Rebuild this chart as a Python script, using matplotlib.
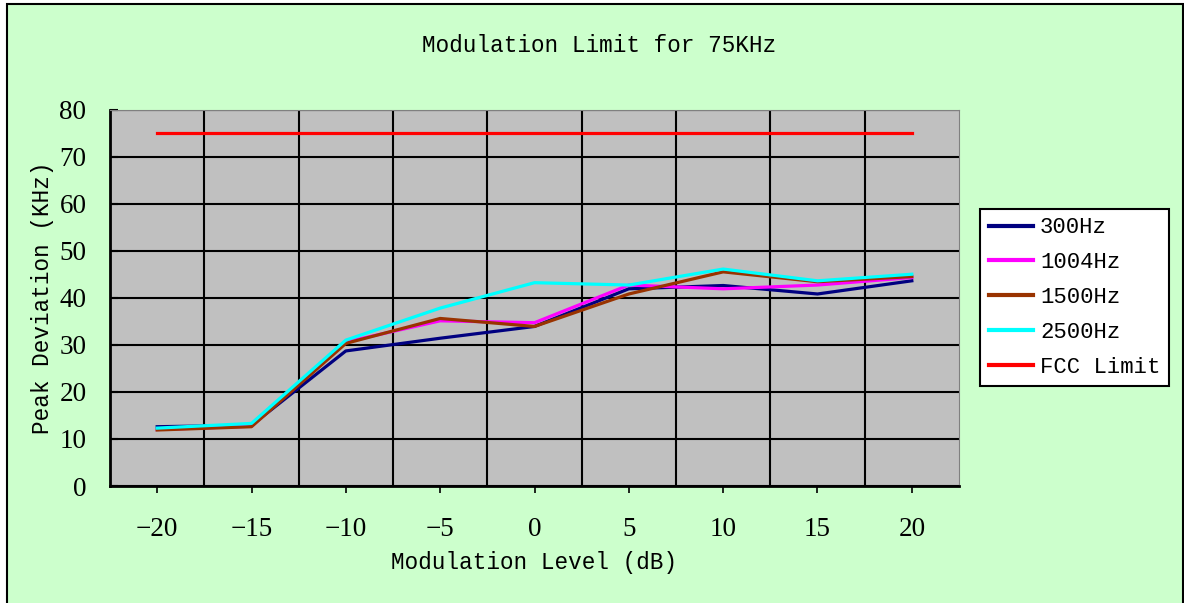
import numpy as np
import matplotlib
matplotlib.use("Agg")
import matplotlib.pyplot as plt
from matplotlib.patches import Rectangle

# data
levels = ["\u221220", "\u221215", "\u221210", "\u22125", "0", "5", "10", "15", "20"]
hz300 = [12.6, 12.9, 28.7, 31.4, 33.9, 41.9, 42.6, 40.8, 43.6]
hz1004 = [12.0, 12.7, 30.6, 35.1, 34.7, 42.7, 41.9, 42.7, 44.3]
hz1500 = [11.9, 12.6, 30.3, 35.6, 33.9, 40.8, 45.5, 43.4, 44.5]
hz2500 = [12.3, 13.3, 31.0, 37.8, 43.2, 42.7, 46.1, 43.6, 45.0]
fcc_limit = [75, 75, 75, 75, 75, 75, 75, 75, 75]

series = [
    ("300Hz", hz300, "#000080"),
    ("1004Hz", hz1004, "#FF00FF"),
    ("1500Hz", hz1500, "#993300"),
    ("2500Hz", hz2500, "#00FFFF"),
    ("FCC Limit", fcc_limit, "#FF0000"),
]

mono = ["Liberation Mono", "DejaVu Sans Mono"]
serif = ["Liberation Serif", "DejaVu Serif"]

W, H = 1184, 603
fig = plt.figure(figsize=(W / 100, H / 100), dpi=100)
fig.patch.set_facecolor("white")

# green chart frame
frame = Rectangle((7 / W, -0.02), (1182.5 - 7) / W, 1.02 - 4 / H,
                  transform=fig.transFigure, facecolor="#CCFFCC",
                  edgecolor="black", linewidth=1.5, zorder=-10)
fig.patches.append(frame)

ax = fig.add_axes([110 / W, 1 - 486 / H, (959 - 110) / W, (486 - 109.5) / H])
ax.set_facecolor("#C0C0C0")

x = np.arange(len(levels))
for name, vals, col in series:
    ax.plot(x, vals, color=col, linewidth=2.3, label=name, zorder=3)

ax.set_xlim(-0.5, len(levels) - 0.5)
ax.set_ylim(0, 80)
ax.set_yticks(range(0, 81, 10))
ax.set_xticks(x)
ax.set_xticklabels(levels)
ax.set_xticks(x[:-1] + 0.5, minor=True)

ax.grid(True, axis="y", which="major", color="black", linewidth=1.5, zorder=1)
ax.grid(True, axis="x", which="minor", color="black", linewidth=1.5, zorder=1)
ax.set_axisbelow(True)

for lbl in ax.get_xticklabels() + ax.get_yticklabels():
    lbl.set_fontfamily(serif)
    lbl.set_fontsize(19.5)
ax.tick_params(axis="x", which="major", direction="out", length=5, width=1.2, pad=17)
ax.tick_params(axis="x", which="minor", length=0)
ax.tick_params(axis="y", direction="in", length=6, width=1.5, pad=17)

ax.spines["left"].set_color("black")
ax.spines["bottom"].set_color("black")
ax.spines["left"].set_linewidth(2)
ax.spines["bottom"].set_linewidth(2)
ax.spines["top"].set_color("#808080")
ax.spines["right"].set_color("#808080")

ax.set_xlabel("Modulation Level (dB)", fontsize=16.3, family=mono, va="center")
ax.xaxis.set_label_coords(0.5, -(563 - 486) / 376.5)
ax.set_ylabel("Peak Deviation (KHz)", fontsize=16.3, family=mono, va="center")
ax.yaxis.set_label_coords((43 - 110) / 849, 0.5)

fig.text(599 / W, 1 - 46 / H, "Modulation Limit for 75KHz", fontsize=16.3,
         family=mono, ha="center", va="center")

leg = ax.legend(loc="center left", bbox_to_anchor=(980 / W, 1 - 297.5 / H),
                bbox_transform=fig.transFigure, borderaxespad=0,
                prop={"family": mono, "size": 16}, handlelength=2.0,
                handletextpad=0.3, labelspacing=0.62, fancybox=False,
                framealpha=1, borderpad=0.4)
leg.get_frame().set_edgecolor("black")
leg.get_frame().set_linewidth(1.5)
for line in leg.get_lines():
    line.set_linewidth(3)

fig.savefig("out.png", dpi=100)
